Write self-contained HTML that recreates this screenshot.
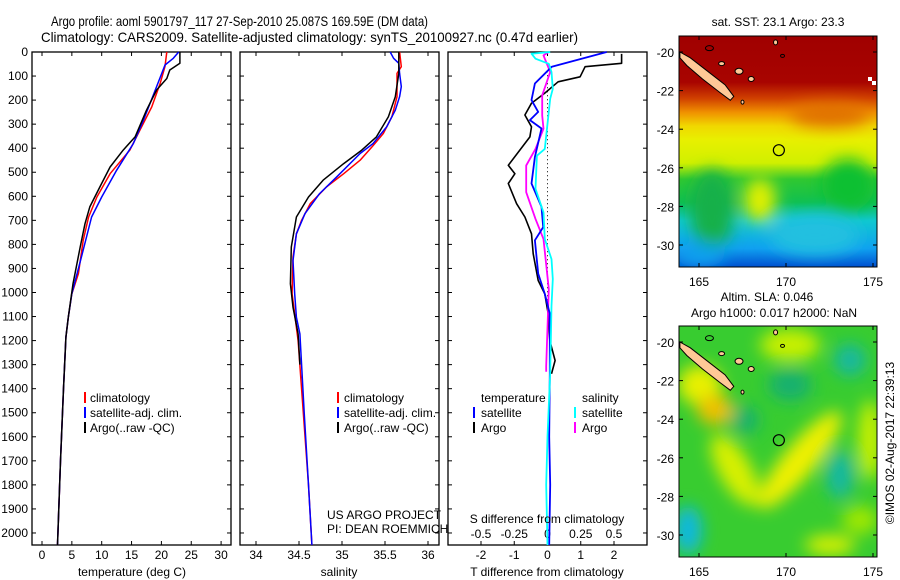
<!DOCTYPE html>
<html><head><meta charset="utf-8">
<style>
html,body{margin:0;padding:0;background:#fff;}
svg{display:block;font-family:"Liberation Sans",sans-serif;}
text{font-size:12px;fill:#000;}
</style></head>
<body>
<svg id="fig" width="900" height="580" viewBox="0 0 900 580" xmlns="http://www.w3.org/2000/svg">
<defs>
<filter id="blur6" x="-30%" y="-30%" width="160%" height="160%"><feGaussianBlur stdDeviation="8"/></filter>
<clipPath id="clipTop"><rect x="679" y="36" width="198" height="231"/></clipPath>
<clipPath id="clipBot"><rect x="679" y="326" width="198" height="231"/></clipPath>
<linearGradient id="sstGrad" x1="0" y1="0" x2="0" y2="1">
<stop offset="0" stop-color="#a00000"/><stop offset="0.2" stop-color="#a80400"/>
<stop offset="0.27" stop-color="#d04000"/><stop offset="0.33" stop-color="#f09000"/>
<stop offset="0.39" stop-color="#f0d800"/><stop offset="0.45" stop-color="#e8f000"/>
<stop offset="0.55" stop-color="#d0f000"/><stop offset="0.62" stop-color="#30c830"/>
<stop offset="0.72" stop-color="#10c050"/><stop offset="0.8" stop-color="#10c8d0"/>
<stop offset="0.92" stop-color="#10a0f0"/><stop offset="1" stop-color="#0050d0"/>
</linearGradient>
</defs>

<text x="51" y="26" textLength="377" lengthAdjust="spacingAndGlyphs" style="font-size:14px">Argo profile: aoml 5901797_117 27-Sep-2010 25.087S 169.59E (DM data)</text>
<text x="41" y="42" textLength="537" lengthAdjust="spacingAndGlyphs" style="font-size:14px">Climatology: CARS2009. Satellite-adjusted climatology: synTS_20100927.nc (0.47d earlier)</text>

<g id="p1"></g>
<g id="p2"></g>
<g id="p3"></g>

<g>
<rect x="84" y="392" width="2" height="11" fill="#f00"/><text x="90" y="402">climatology</text>
<rect x="84" y="407" width="2" height="11" fill="#00f"/><text x="90" y="417">satellite-adj. clim.</text>
<rect x="84" y="422" width="2" height="11" fill="#000"/><text x="90" y="432">Argo(..raw -QC)</text>
</g>
<g>
<rect x="337" y="392" width="2" height="11" fill="#f00"/><text x="344" y="402">climatology</text>
<rect x="337" y="407" width="2" height="11" fill="#00f"/><text x="344" y="417">satellite-adj. clim.</text>
<rect x="337" y="422" width="2" height="11" fill="#000"/><text x="344" y="432">Argo(..raw -QC)</text>
</g>
<g>
<text x="481" y="402">temperature</text><text x="582" y="402">salinity</text>
<rect x="473" y="407" width="2" height="11" fill="#00f"/><text x="481" y="417">satellite</text>
<rect x="473" y="422" width="2" height="11" fill="#000"/><text x="481" y="432">Argo</text>
<rect x="574" y="407" width="2" height="11" fill="#0ff"/><text x="582" y="417">satellite</text>
<rect x="574" y="422" width="2" height="11" fill="#f0f"/><text x="582" y="432">Argo</text>
</g>
<text x="327" y="519">US ARGO PROJECT</text>
<text x="327" y="533">PI: DEAN ROEMMICH</text>

<!-- SST map -->
<text x="778" y="26" text-anchor="middle">sat. SST: 23.1 Argo: 23.3</text>
<g clip-path="url(#clipTop)">
<rect x="679" y="36" width="198" height="231" fill="url(#sstGrad)"/>
<g filter="url(#blur6)">
<ellipse cx="712" cy="210" rx="22" ry="40" fill="#18b048"/>
<ellipse cx="848" cy="185" rx="26" ry="26" fill="#10c030"/>
<ellipse cx="760" cy="200" rx="16" ry="22" fill="#e0f000"/>
<ellipse cx="815" cy="235" rx="45" ry="20" fill="#20c0e0"/>
<ellipse cx="830" cy="115" rx="40" ry="12" fill="#e07000"/>
<ellipse cx="700" cy="255" rx="25" ry="12" fill="#10a0f0"/>
</g>
<rect x="868" y="77" width="4" height="4" fill="#fff"/><rect x="872" y="81" width="4" height="4" fill="#fff"/>
</g>

<!-- SLA map -->
<text x="767" y="301" text-anchor="middle">Altim. SLA: 0.046</text>
<text x="774" y="317" text-anchor="middle">Argo h1000: 0.017 h2000: NaN</text>
<g clip-path="url(#clipBot)">
<rect x="679" y="326" width="198" height="231" fill="#38cc30"/>
<g filter="url(#blur6)">
<ellipse cx="700" cy="385" rx="22" ry="20" fill="#e8f000"/>
<ellipse cx="715" cy="410" rx="18" ry="15" fill="#f0c000"/>
<ellipse cx="800" cy="460" rx="16" ry="62" transform="rotate(40 800 460)" fill="#f0f000"/>
<ellipse cx="735" cy="470" rx="16" ry="40" transform="rotate(-30 735 470)" fill="#d8f000"/>
<ellipse cx="790" cy="345" rx="30" ry="16" fill="#c8f000"/>
<ellipse cx="830" cy="545" rx="25" ry="10" fill="#d8f000"/>
<ellipse cx="745" cy="420" rx="14" ry="14" fill="#18b070"/>
<ellipse cx="790" cy="385" rx="22" ry="16" fill="#18b070"/>
<ellipse cx="840" cy="475" rx="14" ry="24" fill="#18b8a0"/>
<ellipse cx="850" cy="360" rx="16" ry="16" fill="#18b8a0"/>
<ellipse cx="688" cy="530" rx="14" ry="24" fill="#10b8e0"/>
<ellipse cx="860" cy="520" rx="18" ry="14" fill="#a0e800"/>
<ellipse cx="870" cy="440" rx="12" ry="40" fill="#c8f000"/>
</g>
</g>
<text x="0" y="0" transform="translate(894,443) rotate(-90)" text-anchor="middle">©IMOS 02-Aug-2017 22:39:13</text>

<script>
// ---------- data ----------
const tDepthClim = [0,60,130,228,325,408,506,603,686,783,922,1006,1103,1186,1400,1700,2050];
const tClim      = [20.9,20.6,19.8,18.4,16.4,14.7,11.4,9.2,7.8,6.9,6.1,5.0,4.4,4.0,3.6,3.1,2.6];
const tDepthSat  = [0,26,54,144,283,381,492,603,686,853,1006,1103,1186,1400,1700,2050];
const tSat       = [22.9,22.0,20.6,19.2,17.0,15.3,12.5,10.0,8.3,6.6,5.0,4.4,4.0,3.6,3.1,2.6];
const tDepthArgo = [0,47,75,110,158,242,353,408,478,561,644,714,811,964,1103,1186,1400,1700,2050];
const tArgo      = [23.1,23.1,21.4,20.9,19.2,17.5,15.6,13.6,11.4,9.7,8.0,7.2,6.4,5.2,4.4,4.0,3.6,3.1,2.6];

const sDepthClim = [0,61,89,186,269,339,394,450,506,561,631,700,756,853,1006,1200,1500,1800,2050];
const sClim      = [35.67,35.69,35.64,35.64,35.58,35.48,35.35,35.21,35.02,34.82,34.63,34.53,34.47,34.43,34.42,34.49,34.55,34.61,34.65];
const sDepthSat  = [0,26,47,89,144,186,242,311,381,422,519,589,672,756,867,1006,1103,1172,1500,1800,2050];
const sSat       = [35.56,35.6,35.66,35.67,35.69,35.67,35.62,35.52,35.36,35.21,34.94,34.74,34.57,34.47,34.43,34.45,34.47,34.51,34.56,34.61,34.65];
const sDepthArgo = [0,89,186,269,353,408,464,533,603,686,811,964,1061,1172,1300];
const sArgo      = [35.66,35.66,35.62,35.54,35.4,35.23,35.02,34.78,34.61,34.47,34.41,34.4,34.43,34.49,34.51];

const dtDepthArgo = [8,47,61,103,124,171,213,262,311,353,471,506,547,631,686,756,839,950,1006,1088,1200,1283,1338];
const dtArgo      = [2.23,2.23,1.13,0.98,0.32,-0.08,-0.48,-0.68,-0.48,-0.53,-1.18,-0.98,-1.18,-0.93,-0.68,-0.48,-0.43,-0.28,-0.08,0.02,0.07,0.23,0.12];
const dtDepthSat  = [0,61,131,200,249,283,318,436,547,644,728,783,922,1006,1088,1338,1600,1800,2050];
const dtSat       = [1.78,0.13,-0.38,-0.48,-0.28,-0.53,-0.18,-0.38,-0.48,-0.18,-0.13,-0.38,-0.28,-0.08,0.07,0.07,0.05,0.08,0.05];
const dsDepthArgo = [0,14,83,180,264,319,403,472,583,694,778,986,1306,1330];
const dsArgo      = [0.01,-0.03,0.02,-0.04,-0.04,-0.03,-0.09,-0.16,-0.16,-0.09,-0.03,0.01,-0.01,-0.01];
const dsDepthSat  = [0,7,28,49,83,153,194,403,431,569,667,778,861,944,1056,1333,1600,1800,2050];
const dsSat       = [0.02,-0.12,-0.09,0.01,0.03,0.04,0.02,-0.02,-0.08,-0.09,-0.03,-0.02,0.03,0.04,0.03,0.02,0.0,-0.01,0.0];

const depthTicks = [0,100,200,300,400,500,600,700,800,900,1000,1100,1200,1300,1400,1500,1600,1700,1800,1900,2000];
const tTicks = [0,5,10,15,20,25,30];
const sTicks = [34,34.5,35,35.5,36];
const sTickLabels = ["34","34.5","35","35.5","36"];
const dtTicks = [-2,-1,0,1,2];
const dsTicks = [-0.5,-0.25,0,0.25,0.5];
const dsTickLabels = ["-0.5","-0.25","0","0.25","0.5"];
const latTicks = [-20,-22,-24,-26,-28,-30];
const lonTicks = [165,170,175];

// ---------- axes ----------
const NS='http://www.w3.org/2000/svg';
const TOP=52, BOT=545, DMAX=2050;
const yD = d => TOP + d*(BOT-TOP)/DMAX;
const xT = t => 42 + t*5.97;
const xS = s => 256 + (s-34)*86;
const xDT = t => 547.5 + t*33.25;
const xDS = s => 547.5 + s*133;
const mapX = lon => 699 + (lon-165)*17.4;
const mapY = (lat,top) => top + 16 + (-20-lat)*19.3;

function el(tag, attrs, parent){
  const e=document.createElementNS(NS,tag);
  for(const k in attrs) e.setAttribute(k,attrs[k]);
  parent.appendChild(e); return e;
}
function txt(s,x,y,anchor,parent){
  const t=el('text',{x:x,y:y,'text-anchor':anchor},parent); t.textContent=s; return t;
}
function frame(g,x0,x1){
  const r=el('rect',{x:x0,y:TOP,width:x1-x0,height:BOT-TOP,fill:'none',stroke:'#000','stroke-width':1.3},g);
  
  
  depthTicks.forEach(d=>{
    el('line',{x1:x0,x2:x0+4,y1:yD(d),y2:yD(d),stroke:'#000'},g);
    el('line',{x1:x1-4,x2:x1,y1:yD(d),y2:yD(d),stroke:'#000'},g);
  });
}
function xticks(g,vals,labels,fx,ylab){
  vals.forEach((v,i)=>{
    const x=fx(v);
    el('line',{x1:x,x2:x,y1:TOP,y2:TOP+4,stroke:'#000'},g);
    el('line',{x1:x,x2:x,y1:BOT-4,y2:BOT,stroke:'#000'},g);
    const t=txt(labels[i],x,ylab,'middle',g);
    
    
  });
}
function line(g,depths,vals,fx,color,w,name){
  const pts=depths.map((d,i)=>fx(vals[i]).toFixed(1)+','+yD(d).toFixed(1)).join(' ');
  const p=el('polyline',{points:pts,fill:'none',stroke:color,'stroke-width':w,'stroke-linejoin':'round'},g);
  
  
}

// panel 1
const g1=document.getElementById('p1');
frame(g1,32,231);
depthTicks.forEach(d=>{
  const t=txt(String(d),28,yD(d)+4,'end',g1);
  
  
});
xticks(g1,tTicks,tTicks.map(String),xT,559);
line(g1,tDepthClim,tClim,xT,'#f00',1.5,'temperature-climatology-line');
line(g1,tDepthSat,tSat,xT,'#00f',1.5,'temperature-satellite-line');
line(g1,tDepthArgo,tArgo,xT,'#000',1.5,'temperature-argo-line');
let at=txt('temperature (deg C)',132,576,'middle',g1);



// panel 2
const g2=document.getElementById('p2');
frame(g2,240,439);
xticks(g2,sTicks,sTickLabels,xS,559);
line(g2,sDepthClim,sClim,xS,'#f00',1.5,'salinity-climatology-line');
line(g2,sDepthSat,sSat,xS,'#00f',1.5,'salinity-satellite-line');
line(g2,sDepthArgo,sArgo,xS,'#000',1.5,'salinity-argo-line');
at=txt('salinity',339,576,'middle',g2);



// panel 3
const g3=document.getElementById('p3');
frame(g3,448,647);
xticks(g3,dtTicks,dtTicks.map(String),xDT,559);
dsTicks.forEach((v,i)=>{
  const t=txt(dsTickLabels[i],xDS(v),538,'middle',g3);
  
  
});
el('line',{x1:xDT(0),x2:xDT(0),y1:yD(80),y2:yD(1050),stroke:'#000','stroke-dasharray':'1,3'},g3);
line(g3,dtDepthArgo,dtArgo,xDT,'#000',1.6,'t-diff-argo-line');
line(g3,dsDepthArgo,dsArgo,xDS,'#f0f',1.8,'s-diff-argo-line');
line(g3,dtDepthSat,dtSat,xDT,'#00f',1.8,'t-diff-satellite-line');
line(g3,dsDepthSat,dsSat,xDS,'#0ff',1.8,'s-diff-satellite-line');
at=txt('S difference from climatology',547,523,'middle',g3);


at=txt('T difference from climatology',547,576,'middle',g3);



// maps overlays
const svg=document.getElementById('fig');
[36,326].forEach((top,mi)=>{
  const g=el('g',{},svg);
  
  
  const isl=[[163.9,-20.0],[164.5,-20.3],[165.5,-21.0],[166.5,-21.7],[167.0,-22.3],[166.8,-22.5],[166.2,-22.1],[165.2,-21.4],[164.3,-20.7],[163.9,-20.3]];
  el('polygon',{points:isl.map(p=>mapX(p[0]).toFixed(1)+','+mapY(p[1],top).toFixed(1)).join(' '),fill:'#ffc896',stroke:'#000','stroke-width':1},g);
  [[167.3,-21.0,4,3],[168.0,-21.4,3,2.5],[166.3,-20.6,3,2],[169.4,-19.5,2,2.5],[167.5,-22.6,1.5,2]].forEach(s=>{
    el('ellipse',{cx:mapX(s[0]),cy:mapY(s[1],top),rx:s[2],ry:s[3],fill:'#ffc896',stroke:'#000','stroke-width':1},g);
  });
  [[165.6,-19.8,4,2.5],[169.8,-20.2,2,1.5]].forEach(s=>{
    el('ellipse',{cx:mapX(s[0]),cy:mapY(s[1],top),rx:s[2],ry:s[3],fill:'none',stroke:'#000','stroke-width':1},g);
  });
  el('circle',{cx:mapX(169.59),cy:mapY(-25.087,top),r:5.5,fill:'none',stroke:'#000','stroke-width':1.2},g);
  el('rect',{x:679,y:top,width:198,height:231,fill:'none',stroke:'#000','stroke-width':1},g);
  latTicks.forEach(l=>{
    const y=mapY(l,top);
    el('line',{x1:679,x2:683,y1:y,y2:y,stroke:'#000'},g);
    el('line',{x1:873,x2:877,y1:y,y2:y,stroke:'#000'},g);
    const t=txt(String(l),674,y+5,'end',g);
    
    
  });
  lonTicks.forEach(l=>{
    const x=mapX(l);
    el('line',{x1:x,x2:x,y1:top,y2:top+4,stroke:'#000'},g);
    el('line',{x1:x,x2:x,y1:top+227,y2:top+231,stroke:'#000'},g);
    const t=txt(String(l),x,top+250,'middle',g);
    
    
  });
});
</script>
</svg>
</body></html>
